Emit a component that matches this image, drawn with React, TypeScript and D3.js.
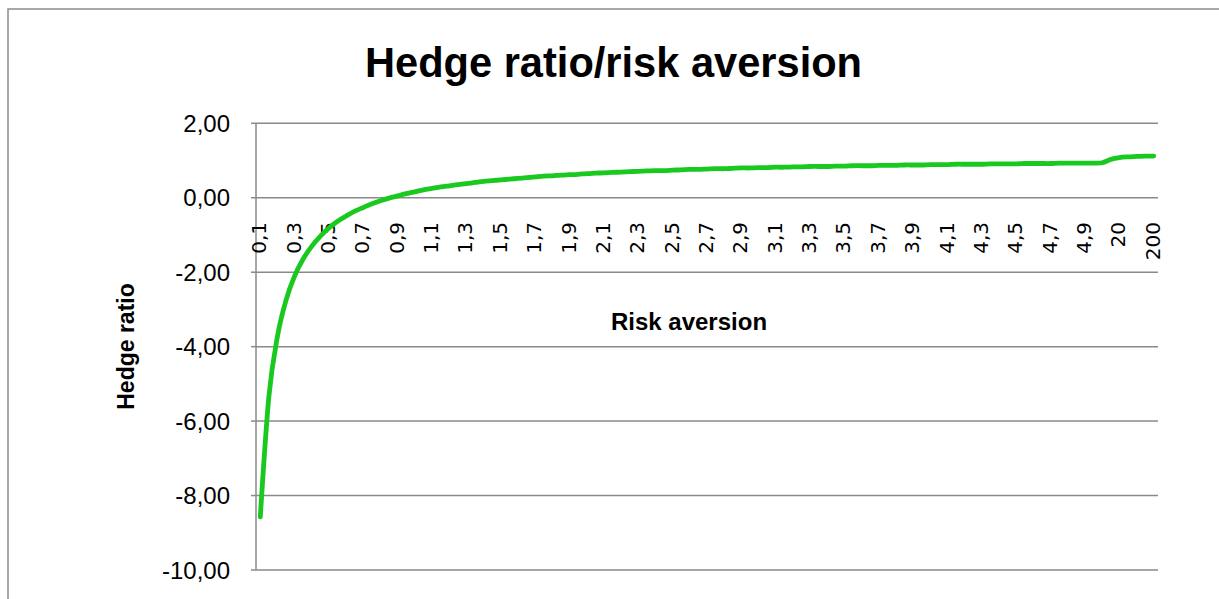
import React from "react";
import * as d3 from "d3";

// Risk aversion categories (x axis, category order)
const riskAversion: string[] = [
  "0,1", "0,15", "0,2", "0,25", "0,3", "0,35", "0,4", "0,45", "0,5", "0,55",
  "0,6", "0,65", "0,7", "0,75", "0,8", "0,85", "0,9", "0,95", "1", "1,05",
  "1,1", "1,15", "1,2", "1,25", "1,3", "1,35", "1,4", "1,45", "1,5", "1,55",
  "1,6", "1,65", "1,7", "1,75", "1,8", "1,85", "1,9", "1,95", "2", "2,05",
  "2,1", "2,15", "2,2", "2,25", "2,3", "2,35", "2,4", "2,45", "2,5", "2,55",
  "2,6", "2,65", "2,7", "2,75", "2,8", "2,85", "2,9", "2,95", "3", "3,05",
  "3,1", "3,15", "3,2", "3,25", "3,3", "3,35", "3,4", "3,45", "3,5", "3,55",
  "3,6", "3,65", "3,7", "3,75", "3,8", "3,85", "3,9", "3,95", "4", "4,05",
  "4,1", "4,15", "4,2", "4,25", "4,3", "4,35", "4,4", "4,45", "4,5", "4,55",
  "4,6", "4,65", "4,7", "4,75", "4,8", "4,85", "4,9", "4,95", "5", "10",
  "20", "50", "100", "150", "200",
];

// Hedge ratio values
const hedgeRatio: number[] = [
  -8.57, -5.34, -3.72, -2.75, -2.1, -1.64, -1.3, -1.03, -0.81, -0.63,
  -0.49, -0.36, -0.26, -0.16, -0.08, -0.01, 0.05, 0.11, 0.16, 0.21,
  0.25, 0.29, 0.32, 0.35, 0.38, 0.41, 0.44, 0.46, 0.48, 0.5,
  0.52, 0.54, 0.56, 0.58, 0.59, 0.61, 0.62, 0.63, 0.65, 0.66,
  0.67, 0.68, 0.69, 0.7, 0.71, 0.72, 0.73, 0.73, 0.74, 0.75,
  0.76, 0.76, 0.77, 0.78, 0.78, 0.79, 0.8, 0.8, 0.81, 0.81,
  0.82, 0.82, 0.83, 0.83, 0.84, 0.84, 0.84, 0.85, 0.85, 0.86,
  0.86, 0.86, 0.87, 0.87, 0.87, 0.88, 0.88, 0.88, 0.89, 0.89,
  0.89, 0.9, 0.9, 0.9, 0.9, 0.91, 0.91, 0.91, 0.91, 0.92,
  0.92, 0.92, 0.92, 0.93, 0.93, 0.93, 0.93, 0.93, 0.94, 1.03,
  1.08, 1.1, 1.11, 1.12, 1.12,
];

const yTicks: number[] = [2, 0, -2, -4, -6, -8, -10];
const labelEvery = 4;

const title = "Hedge ratio/risk aversion";
const xTitle = "Risk aversion";
const yTitle = "Hedge ratio";

export default function App() {
  const W = 1219;
  const H = 599;
  const left = 256;
  const right = 1158;
  const top = 123.3;
  const bottom = 570;

  const x = d3
    .scaleBand<string>()
    .domain(riskAversion)
    .range([left, right])
    .paddingInner(0)
    .paddingOuter(0);
  const cx = (c: string) => (x(c) as number) + x.bandwidth() / 2;
  const y = d3.scaleLinear().domain([-10, 2]).range([bottom, top]);

  const line = d3
    .line<number>()
    .x((_, i) => cx(riskAversion[i]))
    .y((d) => y(d))
    .curve(d3.curveCardinal.tension(0));

  const fmt = (v: number) => v.toFixed(2).replace(".", ",");
  const grid = "#8a8a8a";

  return (
    <svg
      width={W}
      height={H}
      style={{ position: "absolute", left: 0, top: 0, display: "block", background: "#fff" }}
    >
      <rect x={8} y={9} width={1400} height={800} fill="#fff" stroke="#8c8c8c" strokeWidth={1.5} />

      <text
        x={613.5}
        y={77}
        textAnchor="middle"
        fontFamily="'Liberation Sans', Arial, sans-serif"
        fontWeight="bold"
        fontSize={41.6}
        fill="#000"
      >
        {title}
      </text>

      {yTicks.map((t) => (
        <g key={t}>
          <line x1={left} x2={right} y1={y(t)} y2={y(t)} stroke={grid} strokeWidth={1.5} />
          <line x1={left - 5} x2={left} y1={y(t)} y2={y(t)} stroke={grid} strokeWidth={1.5} />
          <text
            x={230}
            y={y(t)}
            dy="0.36em"
            textAnchor="end"
            fontFamily="'Liberation Sans', Arial, sans-serif"
            fontSize={24}
            fill="#000"
          >
            {fmt(t)}
          </text>
        </g>
      ))}
      <line x1={left} x2={left} y1={top} y2={bottom} stroke={grid} strokeWidth={1.5} />

      {riskAversion.map((c, i) =>
        i % labelEvery === 0 ? (
          <text
            key={c}
            transform={`translate(${cx(c) + 6},222) rotate(-90)`}
            textAnchor="end"
            fontFamily="'DejaVu Sans', sans-serif"
            fontSize={20}
            fill="#000"
          >
            {c}
          </text>
        ) : null
      )}

      <text
        x={689}
        y={330}
        textAnchor="middle"
        fontFamily="'Liberation Sans', Arial, sans-serif"
        fontWeight="bold"
        fontSize={24}
        fill="#000"
      >
        {xTitle}
      </text>
      <text
        transform="translate(134,346.5) rotate(-90)"
        textAnchor="middle"
        fontFamily="'Liberation Sans', Arial, sans-serif"
        fontWeight="bold"
        fontSize={23}
        fill="#000"
      >
        {yTitle}
      </text>

      <path
        d={line(hedgeRatio) || ""}
        fill="none"
        stroke="#19c920"
        strokeWidth={4.8}
        strokeLinecap="round"
        strokeLinejoin="round"
      />
    </svg>
  );
}
